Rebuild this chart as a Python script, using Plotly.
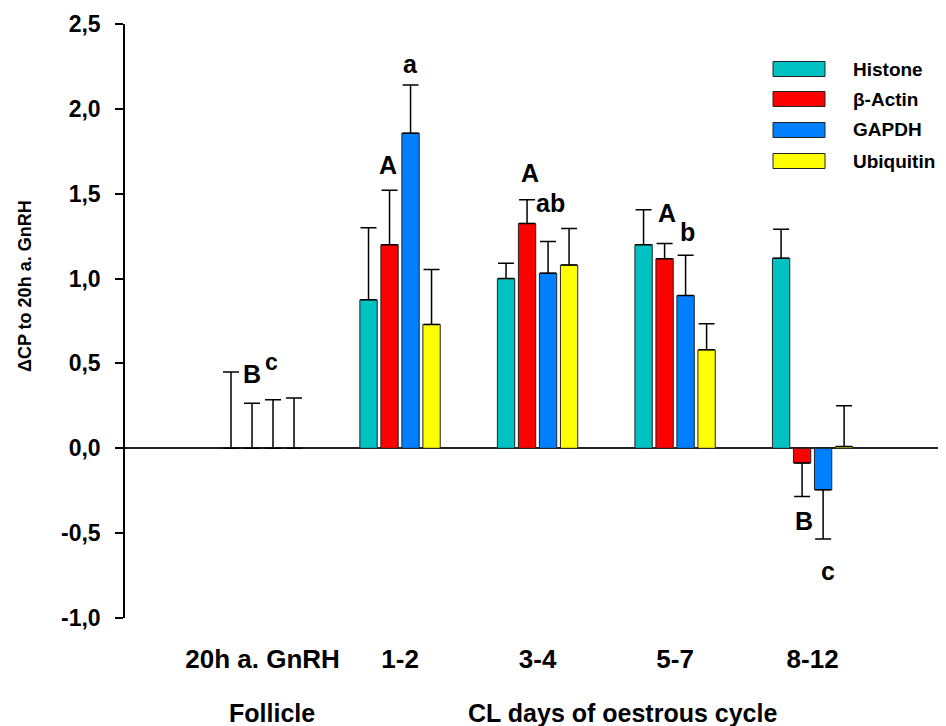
import plotly.graph_objects as go

# ---------------- data ----------------
categories = ["20h a. GnRH", "1-2", "3-4", "5-7", "8-12"]
series_names = ["Histone", "β-Actin", "GAPDH", "Ubiquitin"]
series_colors = ["#00C2C2", "#FF0000", "#0080FF", "#FFFF00"]

histone_mean = [0.0, 0.875, 1.00, 1.20, 1.12]
histone_err = [0.45, 0.425, 0.09, 0.205, 0.17]
actin_mean = [0.0, 1.20, 1.325, 1.117, -0.087]
actin_err = [0.266, 0.32, 0.14, 0.09, 0.197]
gapdh_mean = [0.0, 1.857, 1.032, 0.90, -0.245]
gapdh_err = [0.286, 0.283, 0.187, 0.238, 0.29]
ubiq_mean = [0.0, 0.73, 1.08, 0.58, 0.01]
ubiq_err = [0.296, 0.324, 0.215, 0.154, 0.24]

y_tickvals = [-1.0, -0.5, 0.0, 0.5, 1.0, 1.5, 2.0, 2.5]
y_ticktext = ["-1,0", "-0,5", "0,0", "0,5", "1,0", "1,5", "2,0", "2,5"]

# significance letters: (text, group position, y value)
sig_text = ["B", "c", "A", "a", "A", "ab", "A", "b", "B", "c"]
sig_x = [-0.08, 0.065, 0.909, 1.076, 1.942, 2.095, 2.938, 3.091, 3.935, 4.109]
sig_y = [0.44, 0.51, 1.67, 2.265, 1.623, 1.447, 1.388, 1.276, -0.427, -0.722]

y_title = "ΔCP to 20h a. GnRH"
group_labels = ["Follicle", "CL days of oestrous cycle"]

# ---------------- figure ----------------
OFF = 8  # page body margin
W, H = 946 - OFF, 726 - OFF
L, R, T, B = 125 - OFF, 0, 24 - OFF, 108
PW, PH = W - L - R, H - T - B
FONT = "Liberation Sans, Arial, Helvetica, sans-serif"


def px_x(px):
    return (px - OFF - L) / PW


def px_y(py):
    return (H - B - (py - OFF)) / PH


fig = go.Figure()
xpos = list(range(len(categories)))
means = [histone_mean, actin_mean, gapdh_mean, ubiq_mean]
errs = [histone_err, actin_err, gapdh_err, ubiq_err]
for name, color, m, e in zip(series_names, series_colors, means, errs):
    plus = [ev if mv >= 0 else 0 for mv, ev in zip(m, e)]
    minus = [ev if mv < 0 else 0 for mv, ev in zip(m, e)]
    fig.add_trace(go.Bar(
        x=xpos, y=m, name=name,
        marker=dict(color=color, line=dict(color="#222222", width=1)),
        error_y=dict(type="data", symmetric=False, array=plus, arrayminus=minus,
                     color="black", thickness=1.5, width=8),
        showlegend=False,
    ))

for t, x, y in zip(sig_text, sig_x, sig_y):
    fig.add_annotation(x=x, y=y, xref="x", yref="y", text=t, showarrow=False,
                       font=dict(family=FONT, size=25 if (t != "c" or x > 1) else 23,
                                 color="black", weight="bold"))

# custom legend
leg_y = [69, 99, 130, 161]
for name, color, cy in zip(series_names, series_colors, leg_y):
    fig.add_shape(type="rect", xref="paper", yref="paper",
                  x0=px_x(773), x1=px_x(825), y0=px_y(cy + 7.5), y1=px_y(cy - 7.5),
                  fillcolor=color, line=dict(color="#222222", width=1))
    fig.add_annotation(x=px_x(851), y=px_y(cy), xref="paper", yref="paper",
                       text=name, showarrow=False, xanchor="left", yanchor="middle",
                       font=dict(family=FONT, size=19, color="black", weight="bold"))

# y title
fig.add_annotation(x=px_x(25), y=px_y(286), xref="paper", yref="paper", text=y_title,
                   textangle=-90, showarrow=False, xanchor="center", yanchor="middle",
                   font=dict(family=FONT, size=18, color="black", weight="bold"))

# bottom group labels
for txt, cx in zip(group_labels, [272, 622]):
    fig.add_annotation(x=px_x(cx), y=px_y(713), xref="paper", yref="paper", text=txt,
                       showarrow=False, xanchor="center", yanchor="middle",
                       font=dict(family=FONT, size=25, color="black", weight="bold"))

fig.update_layout(
    width=W, height=H,
    margin=dict(l=L, r=R, t=T, b=B, pad=0),
    paper_bgcolor="white", plot_bgcolor="white",
    barmode="group", bargap=0.389, bargroupgap=0.175,
    showlegend=False,
    font=dict(family=FONT, color="black"),
)
fig.update_xaxes(
    range=[-1.0, 4.97], tickvals=xpos, ticktext=categories,
    showline=False, showgrid=False, zeroline=False, ticks="",
    ticklabelstandoff=23,
    tickfont=dict(family=FONT, size=26, color="black", weight="bold"),
)
fig.update_yaxes(
    range=[-1.0, 2.5], tickvals=y_tickvals, ticktext=y_ticktext,
    showline=True, linecolor="black", linewidth=1.5,
    ticks="outside", ticklen=8, tickwidth=1.5, tickcolor="black",
    showgrid=False, zeroline=True, zerolinecolor="#222222", zerolinewidth=2,
    ticklabelstandoff=10,
    tickfont=dict(family=FONT, size=23, color="black", weight="bold"),
)

fig.write_html("out.html")
